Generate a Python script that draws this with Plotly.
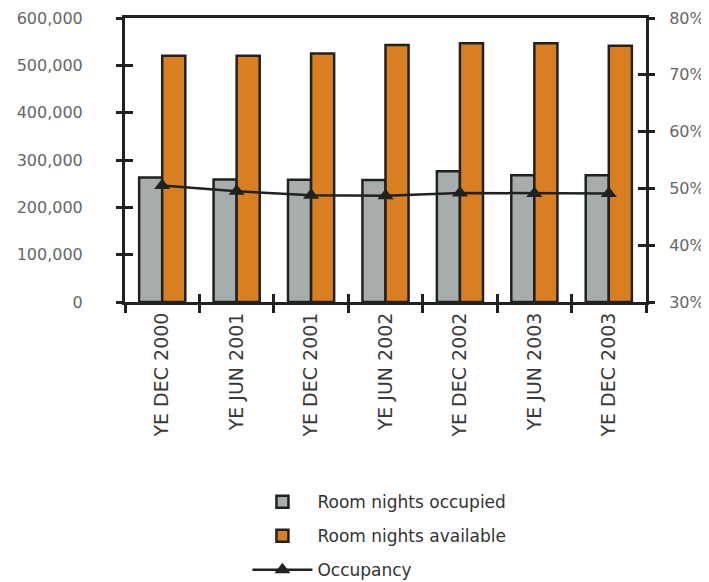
import plotly.graph_objects as go

categories = ["YE DEC 2000", "YE JUN 2001", "YE DEC 2001", "YE JUN 2002",
              "YE DEC 2002", "YE JUN 2003", "YE DEC 2003"]
occupied = [263000, 259000, 258500, 257500, 276000, 268000, 268000]
available = [520000, 520000, 525000, 543000, 546500, 546500, 541500]
occupancy = [0.505, 0.495, 0.488, 0.487, 0.492, 0.491, 0.491]

INK = "#1f221f"
FONT = "DejaVu Sans"
CLEAR = "rgba(0,0,0,0)"

fig = go.Figure()
fig.add_trace(go.Bar(x=categories, y=occupied, name="Room nights occupied",
                     legendgroup="a",
                     marker=dict(color="#a7acad", line=dict(color=INK, width=2.5))))
fig.add_trace(go.Bar(x=categories, y=available, name="Room nights available",
                     legendgroup="b",
                     marker=dict(color="#d97f22", line=dict(color=INK, width=2.5))))
fig.add_trace(go.Scatter(x=categories, y=occupancy, name="Occupancy", yaxis="y2",
                         legendgroup="c", mode="lines+markers",
                         line=dict(color=INK, width=2.5),
                         marker=dict(symbol="triangle-up", size=14, color=INK)))

# empty helper traces so the tick-only overlay axes get drawn
for xa, ya in [("x2", "y3"), ("x", "y4"), ("x", "y5"), ("x", "y6")]:
    fig.add_trace(go.Scatter(x=[], y=[], xaxis=xa, yaxis=ya, mode="markers",
                             showlegend=False, hoverinfo="skip"))

base = dict(tickwidth=3, showgrid=False, zeroline=False, automargin=False)
left_rng = dict(range=[0, 600000], dtick=100000)
right_rng = dict(range=[0.3, 0.8], dtick=0.1)

fig.update_layout(
    width=709, height=582,
    margin=dict(l=117, r=71, t=10, b=288),
    paper_bgcolor="white", plot_bgcolor="white",
    barmode="group", bargap=0.38, bargroupgap=0,
    font=dict(family=FONT, color="#555555"),
    showlegend=True,
    legend=dict(x=0.235, y=0.182, xref="paper", yref="container",
                xanchor="left", yanchor="top",
                font=dict(family=FONT, size=17, color="#333333"),
                tracegroupgap=9, itemwidth=60, bgcolor=CLEAR),
    xaxis=dict(showline=True, linecolor=INK, linewidth=3, mirror=True,
               ticks="outside", tickson="boundaries", tickangle=-90,
               ticklen=8, tickcolor=INK,
               tickfont=dict(family=FONT, size=19, color="#3a3a3a"), **base),
    xaxis2=dict(overlaying="x", anchor="y3", range=[-0.5, 6.5], tick0=0.5,
                dtick=1, ticks="inside", ticklen=8, tickcolor=INK,
                showticklabels=False, showline=False, **base),
    yaxis=dict(tickformat=",", showline=True, linecolor=INK, linewidth=3,
               ticks="outside", ticklen=36, tickcolor=CLEAR,
               tickfont=dict(family=FONT, size=16, color="#666666"),
               **left_rng, **base),
    yaxis2=dict(tickformat=".0%", overlaying="y", side="right",
                showline=True, linecolor=INK, linewidth=3,
                ticks="outside", ticklen=17, tickcolor=CLEAR,
                tickfont=dict(family=FONT, size=16, color="#666666"),
                **right_rng, **base),
    yaxis3=dict(overlaying="y", anchor="x2", side="left", ticks="inside",
                ticklen=8, tickcolor=INK, showticklabels=False, showline=False,
                **left_rng, **base),
    yaxis5=dict(overlaying="y", side="left", ticks="outside", ticklen=8,
                tickcolor=INK, showticklabels=False, showline=False,
                **left_rng, **base),
    yaxis4=dict(overlaying="y", side="right", ticks="inside", ticklen=8,
                tickcolor=INK, showticklabels=False, showline=False,
                **right_rng, **base),
    yaxis6=dict(overlaying="y", side="right", ticks="outside", ticklen=8,
                tickcolor=INK, showticklabels=False, showline=False,
                **right_rng, **base),
)

fig.write_html("out.html")
